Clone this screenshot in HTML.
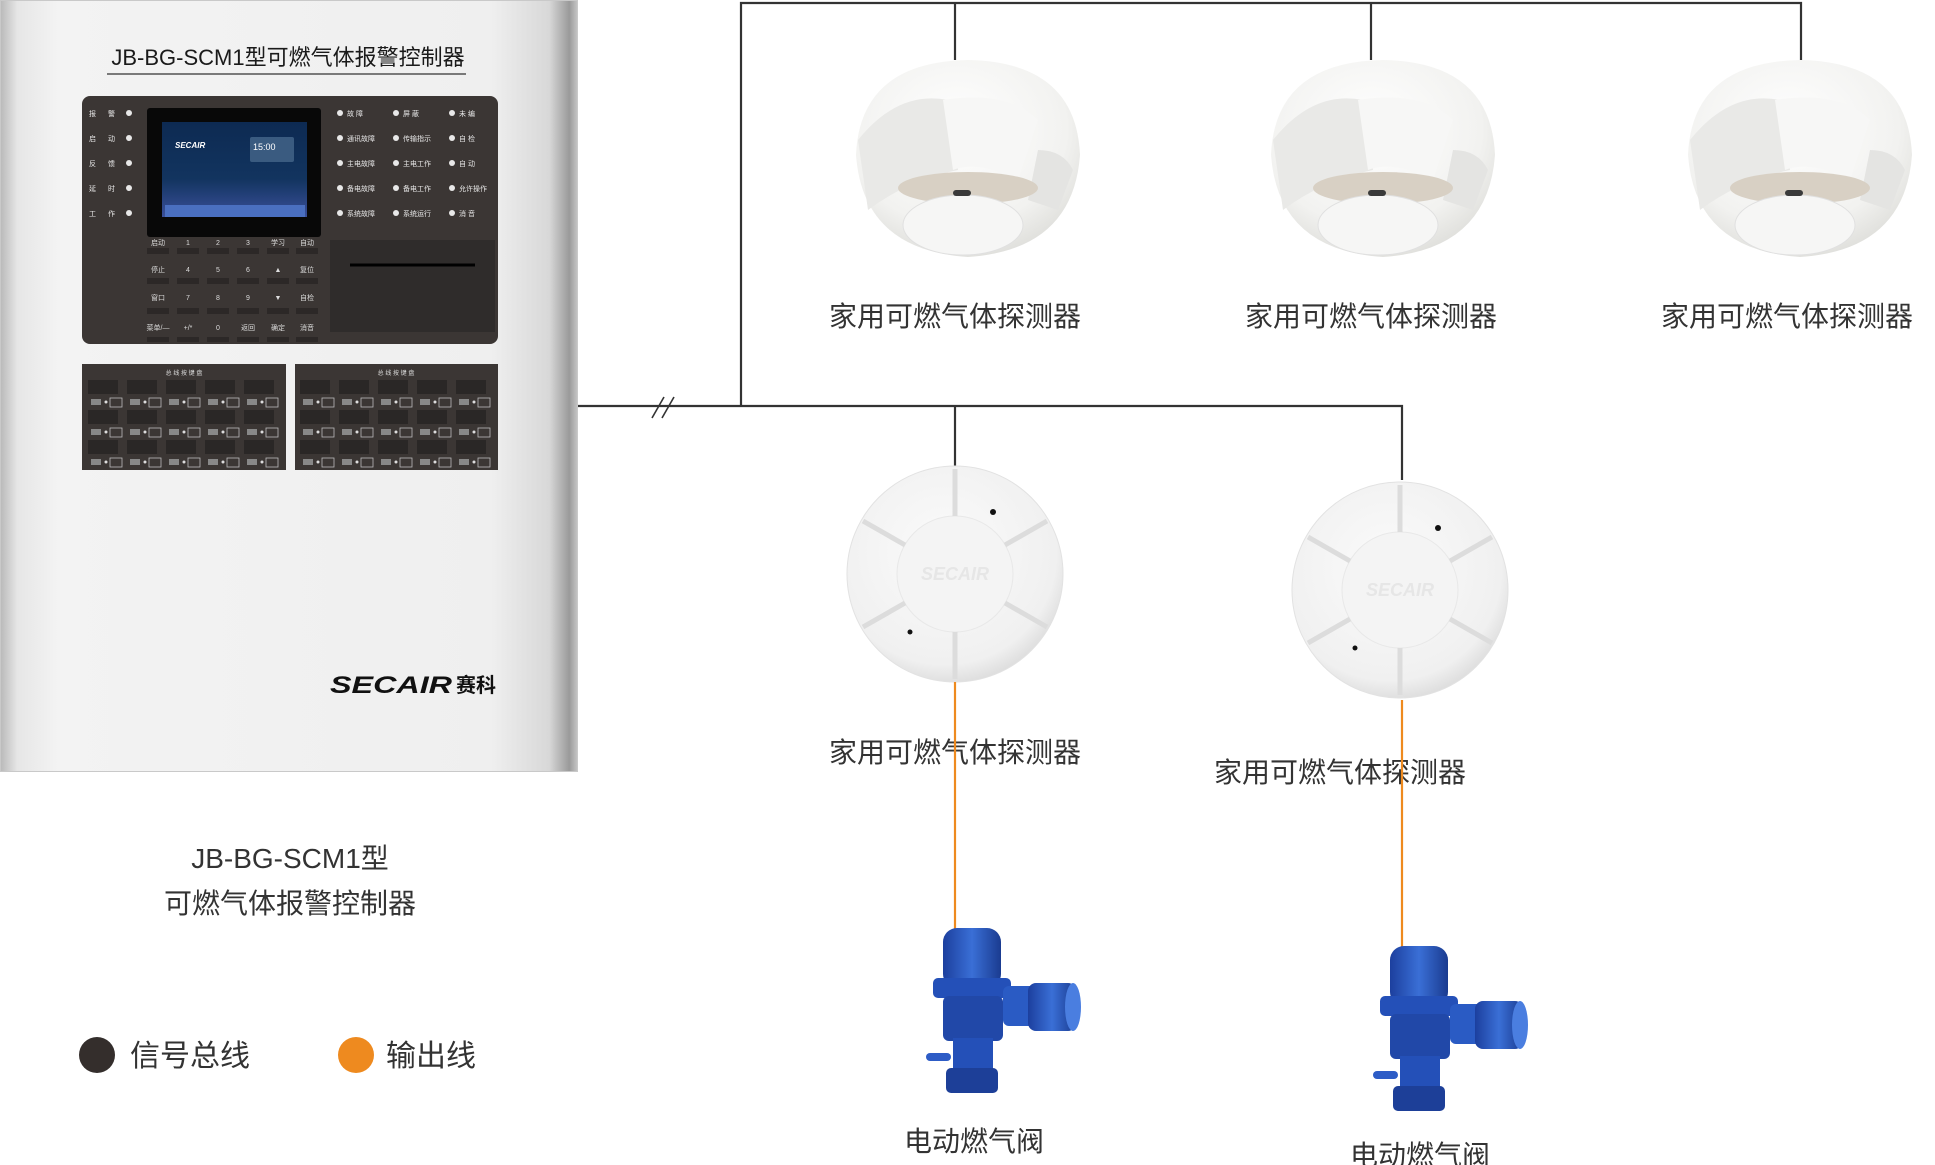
<!DOCTYPE html>
<html><head><meta charset="utf-8"><style>
html,body{margin:0;padding:0;background:#fff;width:1935px;height:1165px;overflow:hidden}
svg text{font-family:"Liberation Sans","Noto Sans CJK SC",sans-serif}
</style></head><body>
<svg width="1935" height="1165" viewBox="0 0 1935 1165" xmlns="http://www.w3.org/2000/svg">
<defs>
<linearGradient id="cab" x1="0" x2="1" y1="0" y2="0">
<stop offset="0" stop-color="#b8b8b8"/><stop offset="0.03" stop-color="#e6e6e6"/><stop offset="0.1" stop-color="#f3f3f3"/><stop offset="0.85" stop-color="#efefef"/><stop offset="0.95" stop-color="#d8d8d8"/><stop offset="0.985" stop-color="#9a9a9a"/><stop offset="1" stop-color="#c8c8c8"/>
</linearGradient>
<radialGradient id="det" cx="0.45" cy="0.35" r="0.7">
<stop offset="0" stop-color="#ffffff"/><stop offset="0.7" stop-color="#f2f2f0"/><stop offset="1" stop-color="#dcdcd8"/>
</radialGradient>
<radialGradient id="disc" cx="0.45" cy="0.4" r="0.65">
<stop offset="0" stop-color="#fbfbfb"/><stop offset="0.8" stop-color="#f0f0f0"/><stop offset="1" stop-color="#d6d6d6"/>
</radialGradient>
<linearGradient id="scr" x1="0" y1="0" x2="0" y2="1"><stop offset="0" stop-color="#0d2a52"/><stop offset="0.6" stop-color="#12345f"/><stop offset="1" stop-color="#3a4f9a"/></linearGradient>
<linearGradient id="blue" x1="0" y1="0" x2="1" y2="0"><stop offset="0" stop-color="#1c3f9e"/><stop offset="0.5" stop-color="#3a6fd6"/><stop offset="1" stop-color="#1a3b90"/></linearGradient>
<g id="topdet">
<path d="M-112 95 Q-108 2 0 0 Q108 2 112 95 Q105 190 0 197 Q-105 190 -112 95 Z" fill="url(#det)"/>
<path d="M-110 80 Q-70 30 -20 40 L-10 110 Q-60 120 -100 150 Z" fill="#e9e9e7"/>
<path d="M-25 40 Q40 30 70 60 L50 120 Q10 100 -15 110 Z" fill="#f7f7f6"/>
<path d="M70 90 Q95 90 105 110 L90 150 L60 140 Z" fill="#e4e4e2"/>
<ellipse cx="0" cy="128" rx="70" ry="16" fill="#d8d0c4"/>
<ellipse cx="-5" cy="165" rx="60" ry="30" fill="#f6f6f5" stroke="#e0e0e0"/>
<rect x="-15" y="130" width="18" height="6" rx="3" fill="#3a3a3a"/>
</g>
<g id="flatdet">
<circle r="108" fill="url(#disc)" stroke="#e2e2e2"/>
<circle r="58" fill="#f4f4f4" stroke="#e8e8e8"/>
<g stroke="#dcdcdc" stroke-width="5" fill="none">
<line x1="0" y1="-58" x2="0" y2="-105"/><line x1="0" y1="58" x2="0" y2="105"/>
<line x1="50" y1="-29" x2="92" y2="-53"/><line x1="-50" y1="-29" x2="-92" y2="-53"/>
<line x1="50" y1="29" x2="92" y2="53"/><line x1="-50" y1="29" x2="-92" y2="53"/>
</g>
<circle cx="38" cy="-62" r="3" fill="#111"/><circle cx="-45" cy="58" r="2.5" fill="#111"/>
<text x="0" y="6" font-size="18" fill="#e6e6e6" text-anchor="middle" font-style="italic" font-weight="bold">SECAIR</text>
</g>
<g id="valve">
<rect x="15" y="0" width="58" height="60" rx="14" fill="url(#blue)"/>
<rect x="5" y="50" width="78" height="20" rx="5" fill="#2450b8"/>
<rect x="75" y="58" width="40" height="40" rx="6" fill="#2a5bc4"/>
<rect x="100" y="55" width="48" height="48" rx="8" fill="url(#blue)"/>
<ellipse cx="145" cy="79" rx="8" ry="24" fill="#4a7ee0"/>
<rect x="15" y="68" width="60" height="45" rx="6" fill="#2148a8"/>
<rect x="25" y="110" width="40" height="32" fill="#2450b8"/>
<rect x="-2" y="125" width="25" height="8" rx="4" fill="#2d5cc6"/>
<rect x="18" y="140" width="52" height="25" rx="5" fill="#1d3f98"/>
</g>
<g id="kcell"><rect x="0" y="0" width="30" height="14" fill="#2a2726"/><circle cx="18" cy="22" r="1.5" fill="#ddd"/><rect x="3" y="19" width="10" height="6" fill="#888"/><rect x="22" y="18" width="12" height="9" fill="none" stroke="#bbb" stroke-width="0.8"/></g>
<g id="krow"><use href="#kcell" x="0"/><use href="#kcell" x="39"/><use href="#kcell" x="78"/><use href="#kcell" x="117"/><use href="#kcell" x="156"/></g>
</defs>

<rect x="0" y="0" width="578" height="772" fill="url(#cab)"/>
<rect x="0.5" y="0.5" width="577" height="771" fill="none" stroke="#c9c9c9"/>
<text x="288" y="65" font-size="22" fill="#1a1a1a" text-anchor="middle">JB-BG-SCM1型可燃气体报警控制器</text>
<line x1="107" y1="74" x2="466" y2="74" stroke="#333" stroke-width="1.2"/>

<rect x="82" y="96" width="416" height="248" rx="8" fill="#3b3634"/>
<rect x="147" y="108" width="174" height="129" rx="3" fill="#080808"/>
<rect x="162" y="122" width="145" height="95" fill="url(#scr)"/>
<text x="175" y="148" font-size="8" font-weight="bold" font-style="italic" fill="#fff">SECAIR</text>
<rect x="250" y="137" width="44" height="25" rx="2" fill="#3a5b80"/>
<text x="253" y="150" font-size="9" fill="#fff">15:00</text>
<g fill="#4a6fc0"><rect x="165" y="205" width="140" height="12"/></g>
<g fill="#e8e8e8" font-size="7">
<text x="89" y="116">报</text><text x="108" y="116">警</text><circle cx="129" cy="113" r="3"/>
<text x="89" y="141">启</text><text x="108" y="141">动</text><circle cx="129" cy="138" r="3"/>
<text x="89" y="166">反</text><text x="108" y="166">馈</text><circle cx="129" cy="163" r="3"/>
<text x="89" y="191">延</text><text x="108" y="191">时</text><circle cx="129" cy="188" r="3"/>
<text x="89" y="216">工</text><text x="108" y="216">作</text><circle cx="129" cy="213" r="3"/>
</g>
<g fill="#e8e8e8" font-size="7">
<g transform="translate(340,0)">
<circle cx="0" cy="113" r="3"/><text x="7" y="116">故 障</text>
<circle cx="0" cy="138" r="3"/><text x="7" y="141">通讯故障</text>
<circle cx="0" cy="163" r="3"/><text x="7" y="166">主电故障</text>
<circle cx="0" cy="188" r="3"/><text x="7" y="191">备电故障</text>
<circle cx="0" cy="213" r="3"/><text x="7" y="216">系统故障</text></g>
<g transform="translate(396,0)">
<circle cx="0" cy="113" r="3"/><text x="7" y="116">屏 蔽</text>
<circle cx="0" cy="138" r="3"/><text x="7" y="141">传输指示</text>
<circle cx="0" cy="163" r="3"/><text x="7" y="166">主电工作</text>
<circle cx="0" cy="188" r="3"/><text x="7" y="191">备电工作</text>
<circle cx="0" cy="213" r="3"/><text x="7" y="216">系统运行</text></g>
<g transform="translate(452,0)">
<circle cx="0" cy="113" r="3"/><text x="7" y="116">未 编</text>
<circle cx="0" cy="138" r="3"/><text x="7" y="141">自 检</text>
<circle cx="0" cy="163" r="3"/><text x="7" y="166">自 动</text>
<circle cx="0" cy="188" r="3"/><text x="7" y="191">允许操作</text>
<circle cx="0" cy="213" r="3"/><text x="7" y="216">消 音</text></g>
</g>
<g fill="#2c2827">
<rect x="147" y="248" width="22" height="6"/><rect x="177" y="248" width="22" height="6"/><rect x="207" y="248" width="22" height="6"/><rect x="237" y="248" width="22" height="6"/><rect x="267" y="248" width="22" height="6"/><rect x="296" y="248" width="22" height="6"/>
<rect x="147" y="278" width="22" height="6"/><rect x="177" y="278" width="22" height="6"/><rect x="207" y="278" width="22" height="6"/><rect x="237" y="278" width="22" height="6"/><rect x="267" y="278" width="22" height="6"/><rect x="296" y="278" width="22" height="6"/>
<rect x="147" y="308" width="22" height="6"/><rect x="177" y="308" width="22" height="6"/><rect x="207" y="308" width="22" height="6"/><rect x="237" y="308" width="22" height="6"/><rect x="267" y="308" width="22" height="6"/><rect x="296" y="308" width="22" height="6"/>
<rect x="147" y="337" width="22" height="5"/><rect x="177" y="337" width="22" height="5"/><rect x="207" y="337" width="22" height="5"/><rect x="237" y="337" width="22" height="5"/><rect x="267" y="337" width="22" height="5"/><rect x="296" y="337" width="22" height="5"/>
</g>
<g fill="#ddd" font-size="7" text-anchor="middle">
<text x="158" y="245">启动</text><text x="188" y="245">1</text><text x="218" y="245">2</text><text x="248" y="245">3</text><text x="278" y="245">学习</text><text x="307" y="245">自动</text>
<text x="158" y="272">停止</text><text x="188" y="272">4</text><text x="218" y="272">5</text><text x="248" y="272">6</text><text x="278" y="272">▲</text><text x="307" y="272">复位</text>
<text x="158" y="300">窗口</text><text x="188" y="300">7</text><text x="218" y="300">8</text><text x="248" y="300">9</text><text x="278" y="300">▼</text><text x="307" y="300">自检</text>
<text x="158" y="330">菜单/—</text><text x="188" y="330">+/*</text><text x="218" y="330">0</text><text x="248" y="330">返回</text><text x="278" y="330">确定</text><text x="307" y="330">消音</text>
</g>
<rect x="330" y="240" width="165" height="92" fill="#2f2c2b"/>
<line x1="350" y1="265" x2="475" y2="265" stroke="#000" stroke-width="3"/>

<rect x="82" y="364" width="204" height="106" fill="#3b3634"/>
<rect x="295" y="364" width="203" height="106" fill="#3b3634"/>
<text x="184" y="375" font-size="6" fill="#ddd" text-anchor="middle">总 线 按 键 盘</text>
<text x="396" y="375" font-size="6" fill="#ddd" text-anchor="middle">总 线 按 键 盘</text>
<use href="#krow" x="88" y="380"/><use href="#krow" x="88" y="410"/><use href="#krow" x="88" y="440"/>
<use href="#krow" x="300" y="380"/><use href="#krow" x="300" y="410"/><use href="#krow" x="300" y="440"/>

<text x="330" y="693" font-size="24" font-weight="bold" font-style="italic" fill="#111" textLength="122" lengthAdjust="spacingAndGlyphs">SECAIR</text>
<text x="456" y="692" font-size="20" font-weight="bold" fill="#111">赛科</text>

<text x="290" y="868" font-size="28" fill="#333" text-anchor="middle">JB-BG-SCM1型</text>
<text x="290" y="913" font-size="28" fill="#333" text-anchor="middle">可燃气体报警控制器</text>
<circle cx="97" cy="1055" r="18" fill="#342e2c"/>
<text x="130" y="1066" font-size="30" fill="#333">信号总线</text>
<circle cx="356" cy="1055" r="18" fill="#ee8a1f"/>
<text x="386" y="1066" font-size="30" fill="#333">输出线</text>

<g stroke="#333" stroke-width="2.2" fill="none">
<polyline points="741,406 741,3 1801,3 1801,60"/>
<line x1="955" y1="3" x2="955" y2="60"/>
<line x1="1371" y1="3" x2="1371" y2="60"/>
<polyline points="578,406 1402,406 1402,480"/>
<line x1="955" y1="406" x2="955" y2="466"/>
<line x1="652" y1="418" x2="664" y2="397" stroke-width="1.6"/>
<line x1="662" y1="418" x2="674" y2="397" stroke-width="1.6"/>
</g>

<use href="#topdet" x="968" y="60"/>
<use href="#topdet" x="1383" y="60"/>
<use href="#topdet" x="1800" y="60"/>
<g font-size="28" fill="#333" text-anchor="middle">
<text x="955" y="326">家用可燃气体探测器</text>
<text x="1371" y="326">家用可燃气体探测器</text>
<text x="1787" y="326">家用可燃气体探测器</text>
</g>
<use href="#flatdet" x="955" y="574"/>
<use href="#flatdet" x="1400" y="590"/>
<g font-size="28" fill="#333" text-anchor="middle">
<text x="955" y="762">家用可燃气体探测器</text>
<text x="1340" y="782">家用可燃气体探测器</text>
</g>
<g stroke="#ee8a1f" stroke-width="2.2">
<line x1="955" y1="682" x2="955" y2="930"/>
<line x1="1402" y1="700" x2="1402" y2="948"/>
</g>

<use href="#valve" x="928" y="928"/>
<use href="#valve" x="1375" y="946"/>
<g font-size="28" fill="#333" text-anchor="middle">
<text x="974" y="1151">电动燃气阀</text>
<text x="1420" y="1165">电动燃气阀</text>
</g>
</svg>
</body></html>
